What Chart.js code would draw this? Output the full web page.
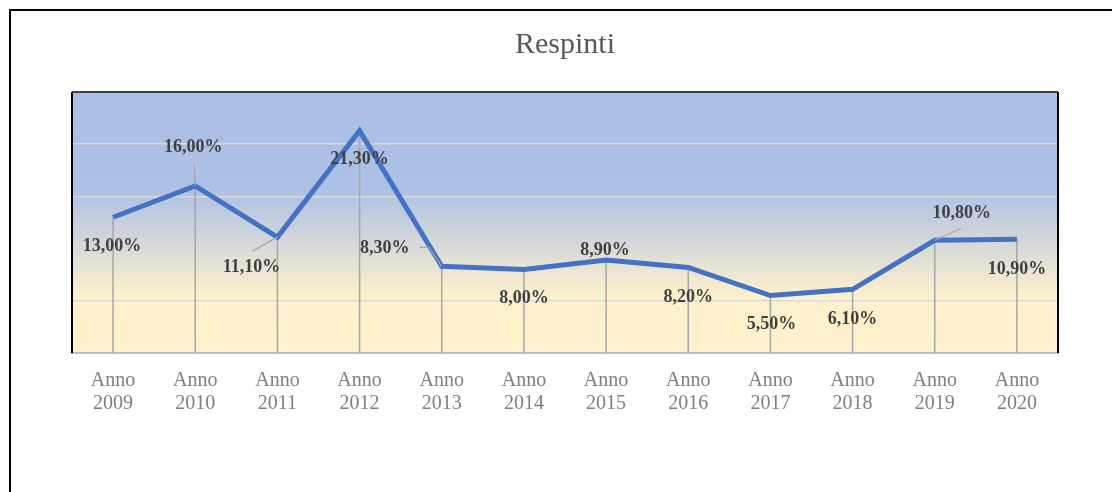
<!DOCTYPE html>
<html>
<head>
<meta charset="utf-8">
<script src="https://cdn.jsdelivr.net/npm/chart.js@4.4.1/dist/chart.umd.min.js"></script>
<style>
  html, body { margin: 0; padding: 0; background: #fff; overflow: hidden; }
  #frame { position: absolute; left: 9px; top: 9px; width: 1200px; height: 600px;
           border-left: 2px solid #000; border-top: 2px solid #000; }
  #wrap { position: absolute; left: 0; top: 0; width: 1112px; height: 492px; }
</style>
</head>
<body>
<div id="frame"></div>
<div id="wrap"><canvas id="chart" width="1112" height="492"></canvas></div>
<script>
const years = ['2009','2010','2011','2012','2013','2014','2015','2016','2017','2018','2019','2020'];
const respinti = [13.0, 16.0, 11.1, 21.3, 8.3, 8.0, 8.9, 8.2, 5.5, 6.1, 10.8, 10.9];
const yTicks = [0, 5, 10, 15, 20, 25];

// where each value label sits, relative to its point (px), and optional leader line start
const labelPos = [
  {dx: -1, dy: 29},
  {dx: -2, dy: -39, lead: [-1, -22]},
  {dx: -26, dy: 30, lead: [-25, 14]},
  {dx: 0, dy: 29},
  {dx: -57, dy: -18, lead: [-22, -19, -13, -19]},
  {dx: 0, dy: 29},
  {dx: -1, dy: -10},
  {dx: 0, dy: 30},
  {dx: 1, dy: 29},
  {dx: 0, dy: 30},
  {dx: 27, dy: -27, lead: [27, -12]},
  {dx: 0, dy: 30}
];

const fmt = v => v.toFixed(2).replace('.', ',') + '%';

const plotDeco = {
  id: 'plotDeco',
  beforeDraw(chart) {
    const {ctx, chartArea: a} = chart;
    const g = ctx.createLinearGradient(0, a.top, 0, a.bottom);
    g.addColorStop(0, '#abbfe6');
    g.addColorStop(0.37, '#adc0e5');
    g.addColorStop(0.78, '#fdf0cd');
    g.addColorStop(1, '#fff2cc');
    ctx.save();
    ctx.fillStyle = g;
    ctx.fillRect(a.left, a.top, a.right - a.left, a.bottom - a.top);
    ctx.restore();
  },
  beforeDatasetsDraw(chart) {
    const {ctx, chartArea: a} = chart;
    const pts = chart.getDatasetMeta(0).data;
    ctx.save();
    ctx.strokeStyle = '#a6a6a6';
    ctx.lineWidth = 1.5;
    pts.forEach(p => {
      ctx.beginPath();
      ctx.moveTo(p.x, p.y);
      ctx.lineTo(p.x, a.bottom);
      ctx.stroke();
    });
    ctx.restore();
  },
  afterDatasetsDraw(chart) {
    const {ctx, chartArea: a} = chart;
    const pts = chart.getDatasetMeta(0).data;
    ctx.save();
    // leader lines
    ctx.strokeStyle = '#a6a6a6';
    ctx.lineWidth = 1.2;
    pts.forEach((p, i) => {
      const l = labelPos[i].lead;
      if (!l) return;
      ctx.beginPath();
      ctx.moveTo(p.x + l[0], p.y + l[1]);
      if (l.length > 2) ctx.lineTo(p.x + l[2], p.y + l[3]);
      ctx.lineTo(p.x, p.y);
      ctx.stroke();
    });
    // value labels
    ctx.fillStyle = '#404040';
    ctx.font = 'bold 18px "Liberation Serif", "DejaVu Serif", serif';
    ctx.textAlign = 'center';
    ctx.textBaseline = 'middle';
    pts.forEach((p, i) => {
      ctx.fillText(fmt(respinti[i]), p.x + labelPos[i].dx, p.y + labelPos[i].dy);
    });
    // plot frame
    ctx.strokeStyle = '#000';
    ctx.lineWidth = 2;
    ctx.beginPath();
    ctx.moveTo(a.left, a.bottom);
    ctx.lineTo(a.left, a.top);
    ctx.stroke();
    ctx.beginPath();
    ctx.moveTo(a.right, a.top);
    ctx.lineTo(a.right, a.bottom);
    ctx.stroke();
    ctx.strokeStyle = '#404040';
    ctx.beginPath();
    ctx.moveTo(a.left, a.top);
    ctx.lineTo(a.right, a.top);
    ctx.stroke();
    ctx.restore();
  }
};

new Chart(document.getElementById('chart'), {
  type: 'line',
  data: {
    labels: years.map(y => ['Anno', y]),
    datasets: [{
      label: 'Respinti',
      data: respinti,
      borderColor: '#4472c4',
      borderWidth: 5,
      pointRadius: 0,
      tension: 0,
      fill: false
    }]
  },
  options: {
    responsive: false,
    animation: false,
    layout: { padding: { left: 72, right: 54, top: 0, bottom: 0 } },
    plugins: {
      legend: { display: false },
      tooltip: { enabled: false },
      title: {
        display: true,
        text: 'Respinti',
        color: '#595959',
        font: { family: '"Liberation Serif", "DejaVu Serif", serif', size: 30, weight: 'normal' },
        padding: { top: 27, bottom: 29 }
      }
    },
    scales: {
      x: {
        offset: true,
        grid: { display: false, drawTicks: false },
        border: { display: true, color: '#bfbfbf', width: 2 },
        ticks: {
          color: '#7f7f7f',
          padding: 16,
          maxRotation: 0,
          font: { family: '"Liberation Serif", "DejaVu Serif", serif', size: 20, lineHeight: 1.15 }
        },
        afterFit(scale) { scale.height = 139; }
      },
      y: {
        min: 0,
        max: 25,
        afterBuildTicks(scale) { scale.ticks = yTicks.map(v => ({value: v})); },
        grid: { color: '#d9d9d9', lineWidth: 1.5, drawTicks: false },
        border: { display: false },
        ticks: { display: false },
        afterFit(scale) { scale.width = 0; }
      }
    }
  },
  plugins: [plotDeco]
});
</script>
</body>
</html>
